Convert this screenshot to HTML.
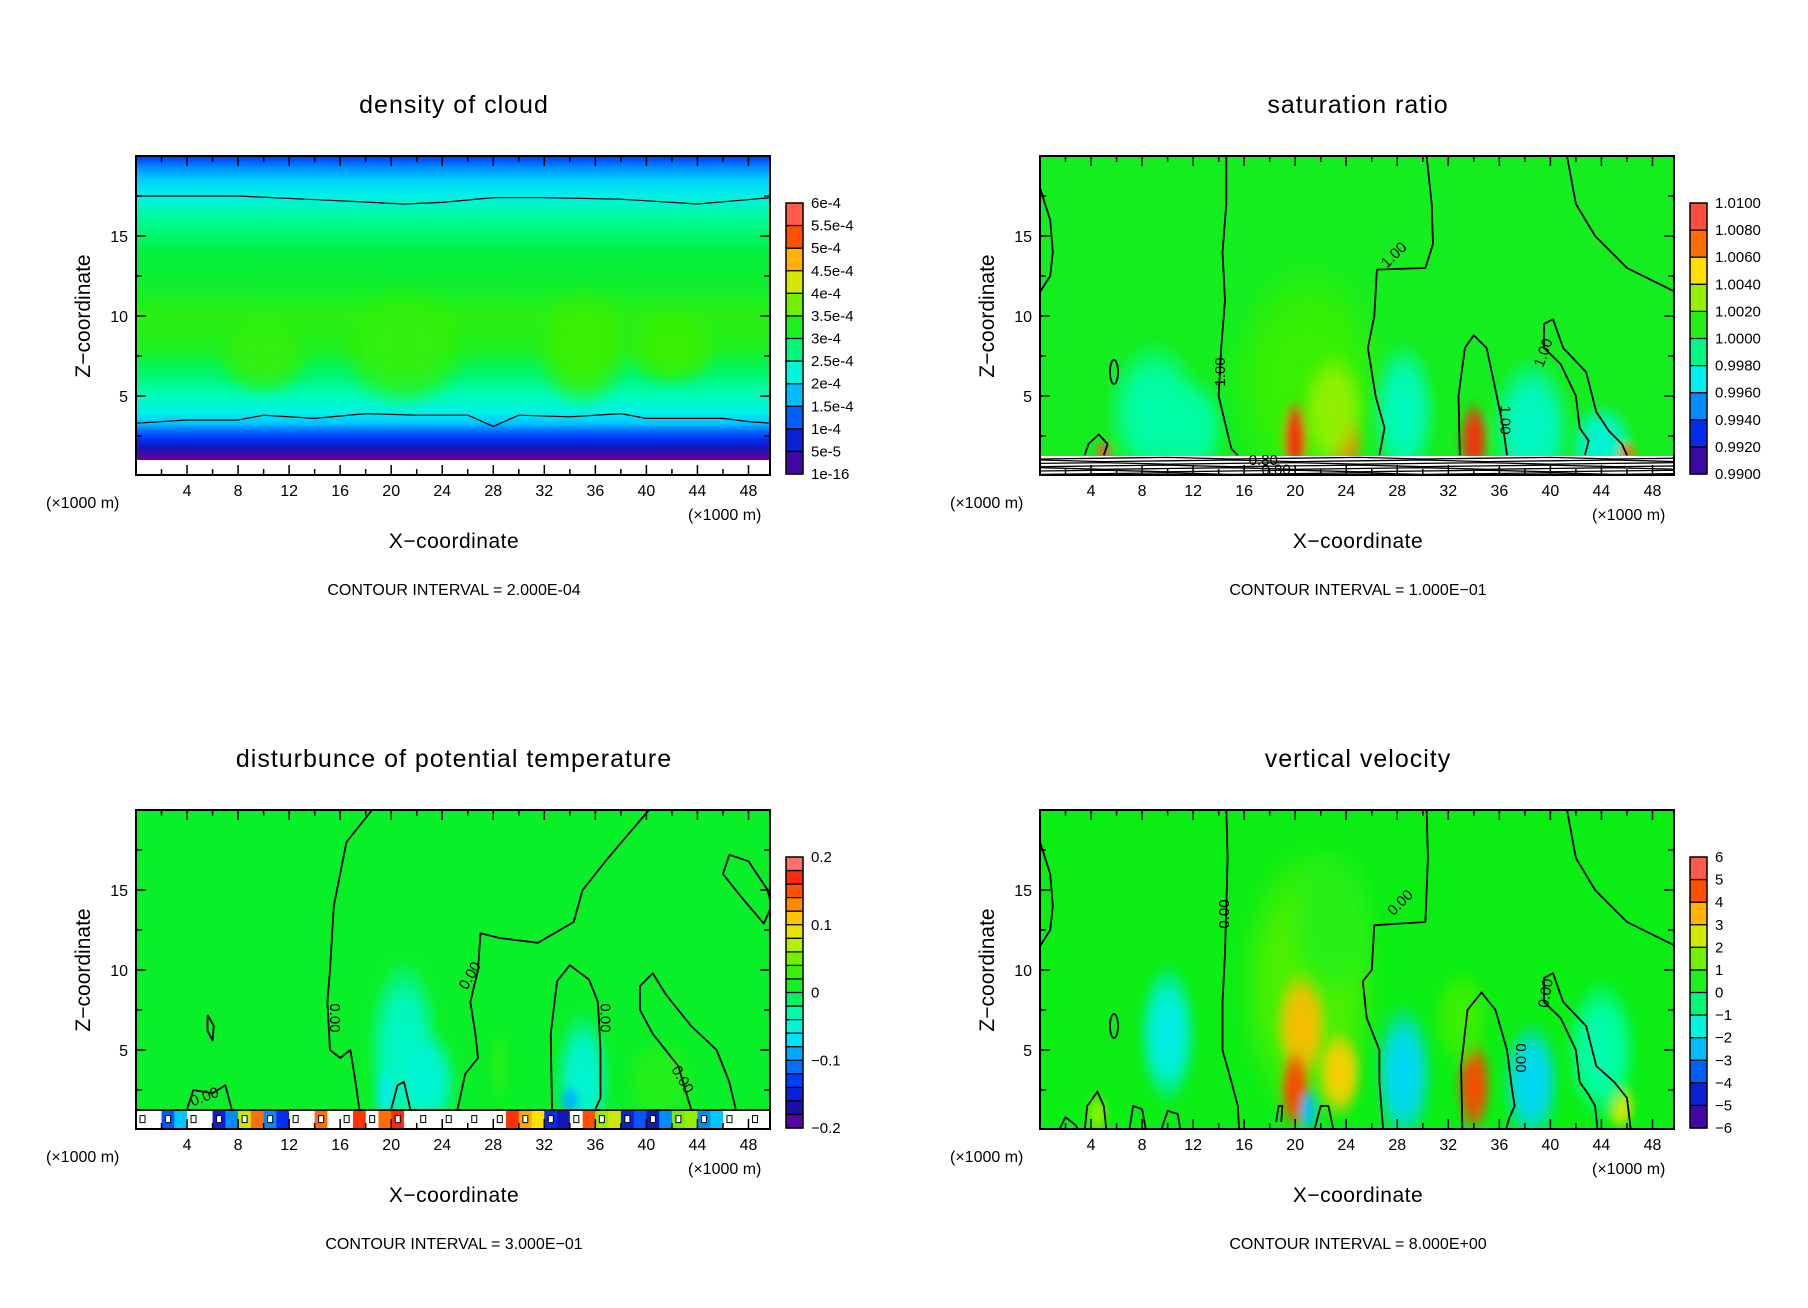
<!DOCTYPE html>
<html><head><meta charset="utf-8"><style>
html,body{margin:0;padding:0;background:#fff;}
svg{display:block;font-family:"Liberation Sans",sans-serif;}
</style></head><body>
<svg id="fig" width="1808" height="1308" viewBox="0 0 1808 1308" xmlns="http://www.w3.org/2000/svg">
<defs>
<filter id="blur" x="-50%" y="-50%" width="200%" height="200%"><feGaussianBlur stdDeviation="4"/></filter>
</defs>
</svg>
<script>
// ---------- data ----------
const xTicks=[4,8,12,16,20,24,28,32,36,40,44,48];
const zTicks=[5,10,15];
const densLabels=["1e-16","5e-5","1e-4","1.5e-4","2e-4","2.5e-4","3e-4","3.5e-4","4e-4","4.5e-4","5e-4","5.5e-4","6e-4"];
const satLabels=["0.9900","0.9920","0.9940","0.9960","0.9980","1.0000","1.0020","1.0040","1.0060","1.0080","1.0100"];
const thLabels=["\u22120.2","\u22120.1","0","0.1","0.2"];
const wLabels=["\u22126","\u22125","\u22124","\u22123","\u22122","\u22121","0","1","2","3","4","5","6"];
const densZ=[1.0,1.4,1.8,2.3,2.8,3.3,4.0,5,6.5,8,10,12,14,16,17.5,18.5,19.3,20];
const densV=[0.0,0.04,0.1,0.16,0.22,0.3,0.36,0.41,0.47,0.54,0.56,0.52,0.5,0.44,0.36,0.31,0.25,0.17];
const densTop=[[0,17.5],[8,17.5],[16,17.2],[21,17.0],[24,17.1],[28,17.4],[32,17.4],[38,17.3],[44,17.0],[49.8,17.4]];
const densBot=[[0,3.3],[4,3.5],[8,3.5],[10,3.8],[14,3.6],[18,3.9],[22,3.8],[26,3.8],[28,3.1],[30,3.8],[34,3.7],[38,3.9],[40,3.6],[46,3.6],[48,3.4],[49.8,3.3]];
const satBX=[21,9,28.5,38.5,44,20,24,34,5,46,12,23];
const satBZ=[6,4,4,3,2,2.3,2,2.2,1.5,1.5,3,4];
const satBRX=[5,3,2,2.5,2,0.8,1.0,0.9,0.5,0.6,2,2];
const satBRZ=[6,3.5,3.5,3.5,2,2,1.5,2,0.6,0.5,2.5,3];
const satBV=[1.0016,0.9984,0.998,0.9978,0.9975,1.0085,1.007,1.0085,1.009,1.007,0.9985,1.003];
const wBX=[21,20.5,20,23.5,34,10,28.5,38.5,45.5,4.5,21,33,44,23];
const wBZ=[9,6.5,2.5,3.5,2.8,6,3.5,3,1.5,1,1.2,7,5,13];
const wBRX=[4.5,1.6,1.0,1.4,1.1,1.8,1.8,1.8,0.9,0.7,0.6,1.8,2.2,3];
const wBRZ=[7,2.8,2.0,2.2,2.4,3.5,3.5,3,1.2,1,1.2,2.5,3.5,4];
const wBV=[1.2,3.4,4.6,3.2,4.6,-1.8,-2.2,-2.2,2.6,1.8,-2.5,1,-1,0.6];
const thBX=[21,23,35,34,41,28.5,19.5];
const thBZ=[5,3,3,1.8,3,4,2];
const thBRX=[2.2,1.7,1.7,0.6,2.2,0.6,0.6];
const thBRZ=[4.5,2.5,3.5,0.8,2.2,1.8,1.8];
const thBV=[-0.045,-0.05,-0.05,-0.09,0.02,0.02,-0.06];
const stripV=[0.2,0.2,-0.12,-0.08,0.2,0.2,-0.15,-0.1,0.08,0.14,-0.1,-0.14,0.2,0.2,0.14,0.2,0.2,0.16,0.2,0.14,0.17,0.2,0.2,0.2,0.2,0.2,0.2,0.2,0.2,0.16,0.12,0.1,-0.14,-0.16,0.2,0.15,0.06,0.08,-0.15,-0.12,-0.16,-0.1,0.05,0.06,-0.1,-0.08,0.2,0.2,0.2,0.2];
const satC=[
 [[0,18],[0.8,16],[1,14],[0.8,12.5],[0,11.5]],
 [[14.6,20],[14.6,17],[14.3,14],[14.5,11],[14.2,8],[14,5],[14.6,3],[15,1.7],[15.5,1.3]],
 [[30.3,20],[30.7,17],[30.8,14.5],[30.2,13],[26.4,12.9],[26.2,10],[25.7,8],[26.3,5],[27,3],[26.6,1.3]],
 [[32.9,1.3],[32.8,5],[33.3,8],[34,8.8],[35,8],[35.8,5],[36.3,3],[36.6,1.3]],
 [[41.3,20],[42,17],[43.5,15],[46,13],[49.8,11.5]],
 [[42.7,1.3],[43,2.2],[42.3,3],[42,5],[40.8,7],[39.5,8],[39.5,9.5],[40.2,9.8],[41,8],[42.8,6.5],[43.6,4],[44.6,2.8],[45.6,2],[46,1.3]],
 [[3.5,1.3],[3.8,2],[4.6,2.6],[5.3,2],[5,1.3]]
];
const wC=[
 [[0,18],[0.8,16],[1,14],[0.8,12.5],[0,11.5]],
 [[14.6,20],[14.7,17],[14.6,14],[14.5,11],[14.3,8],[14.3,5],[15,3],[15.5,1.5],[15.6,0]],
 [[30.3,20],[30.4,17],[30.2,13],[26.2,12.8],[26,10],[25.3,9.3],[25.6,7],[26.6,5],[26.6,3],[26.9,0]],
 [[33.1,0],[33,4],[33.5,7.5],[34.6,8.6],[35.7,7.5],[36.6,5],[37,2.5],[37.2,1.5],[36.8,0.8],[36.5,0]],
 [[41.3,20],[42,17],[43.5,15],[46,13],[49.8,11.5]],
 [[43.7,0],[43.5,1.5],[43,2.2],[42.3,3],[42,5],[40.8,7],[39.5,8],[39.5,9.5],[40.2,9.8],[41,8],[42.8,6.5],[43.6,4],[45,3],[46,2],[46.3,0]],
 [[3.5,0],[3.7,1.5],[4.5,2.4],[5,1.5],[5.2,0]],[[7,0],[7.3,1.5],[8,1.3],[8.3,0]],[[9.5,0],[10,1.2],[10.8,1],[11,0]],[[1.5,0],[2,0.8],[2.8,0.3],[3,0]],
 [[18.5,0.5],[18.7,1.5],[19,1.5],[18.9,0.5]],[[21.5,0],[22,1.5],[22.6,1.5],[23,0]]
];
const thC=[
 [[18.5,20],[16.5,18],[15.5,14],[15.2,10],[15,8],[15.2,5],[16,4.5],[16.8,5],[17.2,3],[17.5,1.3]],
 [[40.2,20],[37,17],[35,15],[34.3,13],[31.5,11.7],[28.5,12],[27,12.3],[26.8,10],[26.2,8],[26.6,6],[26.8,4.5],[25.8,3.5],[25.2,1.3]],
 [[32.6,1.3],[32.5,6],[33,9.3],[34,10.3],[35.5,9.4],[36.2,8],[36.4,5],[36.4,2],[36,1.3]],
 [[43.5,1.3],[42.5,4],[40.5,6],[39.5,7.5],[39.5,9],[40.5,9.8],[41.5,8.5],[43.5,6.5],[45.5,5],[46.5,3],[47,1.3]],
 [[46.5,17.2],[48,16.8],[49.5,15],[49.8,14],[49.2,12.9],[47.5,14.5],[46,16],[46.5,17.2]],
 [[5.6,7.2],[6.1,6.5],[6,5.6],[5.6,6.2],[5.6,7.2]],
 [[20,1.3],[20.5,2.8],[21,3],[21.5,1.3]],[[4,1.3],[4.5,2.5],[6,2.3],[7,2.8],[7.5,1.3]]
];
// ---------- helpers ----------
const NS="http://www.w3.org/2000/svg";
const svg=document.getElementById('fig');
const ramp=[[0,[112,0,160]],[0.083,[20,16,170]],[0.167,[0,50,255]],[0.25,[0,140,255]],[0.333,[0,235,255]],[0.417,[0,255,180]],[0.5,[0,240,60]],[0.583,[60,240,0]],[0.667,[170,240,0]],[0.75,[255,225,0]],[0.833,[255,130,0]],[0.917,[255,30,0]],[1,[255,150,150]]];
function col(t){t=Math.max(0,Math.min(1,t));for(let i=1;i<ramp.length;i++){if(t<=ramp[i][0]){const a=ramp[i-1],b=ramp[i];const f=(t-a[0])/(b[0]-a[0]);const c=a[1].map((v,k)=>Math.round(v+(b[1][k]-v)*f));return `rgb(${c[0]},${c[1]},${c[2]})`;}}return 'rgb(255,150,150)';}
function el(tag,attrs,parent){const e=document.createElementNS(NS,tag);for(const k in attrs)e.setAttribute(k,attrs[k]);(parent||svg).appendChild(e);return e;}
const L=136,R=770,T=156,B=476;
function sx(x){return L+x*12.76;}
function sz(z){return B-z*16;}
function pts(arr,ox,oy){return arr.map(p=>(sx(p[0])+ox).toFixed(1)+','+(sz(p[1])+oy).toFixed(1)).join(' ');}
let gid=0;

function panel(ox,oy,title,ci,labels,nb,name){
  const g=el('g',{});
  
  
  const t=el('text',{x:454+ox,y:113+oy,'text-anchor':'middle','font-size':25,fill:'#000','letter-spacing':'1'},g);
  t.textContent=title;
  
  
  const cp=el('clipPath',{id:'cp'+name},g);
  el('rect',{x:L+ox,y:T+oy,width:R-L,height:B-1-T},cp);
  const plot=el('g',{'clip-path':`url(#cp${name})`},g);
  
  
  const cb=el('g',{},g);
  
  
  const cx=786+ox,ct=203+oy,cbt=474+oy,bh=(cbt-ct)/nb;
  for(let i=0;i<nb;i++){
    const r=el('rect',{x:cx,y:cbt-(i+1)*bh,width:17,height:bh+0.5,fill:col((i+0.5)/nb)},cb);
    
    
    el('line',{x1:cx,x2:cx+17,y1:cbt-i*bh,y2:cbt-i*bh,stroke:'#000','stroke-width':1.3},cb);
  }
  el('rect',{x:cx,y:ct,width:17,height:cbt-ct,fill:'none',stroke:'#000','stroke-width':1.5},cb);
  labels.forEach((s,i)=>{const y=cbt-i*(cbt-ct)/(labels.length-1);
    const tx=el('text',{x:cx+25,y:y+5,'font-size':15,fill:'#000'},cb);tx.textContent=s;
    
    });
  const zl=el('text',{x:0,y:0,'font-size':21,'text-anchor':'middle',transform:`translate(${90+ox},${316+oy}) rotate(-90)`},g);zl.textContent='Z\u2212coordinate';
  
  const xl=el('text',{x:454+ox,y:548+oy,'font-size':21,'text-anchor':'middle','letter-spacing':'0.5'},g);xl.textContent='X\u2212coordinate';
  
  const u1=el('text',{x:46+ox,y:508+oy,'font-size':16},g);u1.textContent='(\u00d71000 m)';
  
  const u2=el('text',{x:688+ox,y:520+oy,'font-size':16},g);u2.textContent='(\u00d71000 m)';
  
  const c=el('text',{x:454+ox,y:595+oy,'font-size':16,'text-anchor':'middle'},g);c.textContent='CONTOUR INTERVAL = '+ci;
  
  return {g,plot};
}
function frame(ox,oy,g){
  el('rect',{x:L+ox,y:T+oy,width:R-L,height:B-1-T,fill:'none',stroke:'#000','stroke-width':2},g);
  for(let x=2;x<50;x+=2){const big=x%4===0;const len=big?10:6;
    el('line',{x1:sx(x)+ox,x2:sx(x)+ox,y1:B-1+oy,y2:B-1-len+oy,stroke:'#000','stroke-width':1.5},g);
    el('line',{x1:sx(x)+ox,x2:sx(x)+ox,y1:T+oy,y2:T+len+oy,stroke:'#000','stroke-width':1.5},g);}
  for(let z=2.5;z<20;z+=2.5){const big=z%5===0;const len=big?10:6;
    el('line',{x1:L+ox,x2:L+len+ox,y1:sz(z)+oy,y2:sz(z)+oy,stroke:'#000','stroke-width':1.5},g);
    el('line',{x1:R+ox,x2:R-len+ox,y1:sz(z)+oy,y2:sz(z)+oy,stroke:'#000','stroke-width':1.5},g);}
  xTicks.forEach(v=>{const t=el('text',{x:sx(v)+ox,y:496+oy,'font-size':16,'text-anchor':'middle'},g);t.textContent=v;
    });
  zTicks.forEach(v=>{const t=el('text',{x:L-8+ox,y:sz(v)+6+oy,'font-size':16,'text-anchor':'end'},g);t.textContent=v;
    });
}
function blobs(plot,ox,oy,X,Z,RX,RZ,V,lo,hi){
  const bg=el('g',{filter:'url(#blur)'},plot);
  X.forEach((x,i)=>{const c=col((V[i]-lo)/(hi-lo));const id='rg'+(gid++);
    const rg=el('radialGradient',{id:id},bg);
    el('stop',{offset:'0','stop-color':c,'stop-opacity':1},rg);
    el('stop',{offset:'0.55','stop-color':c,'stop-opacity':0.85},rg);
    el('stop',{offset:'1','stop-color':c,'stop-opacity':0},rg);
    const e=el('ellipse',{cx:sx(x)+ox,cy:sz(Z[i])+oy,rx:RX[i]*12.76*1.3,ry:RZ[i]*16*1.3,fill:`url(#${id})`},bg);
    });
}
function contours(plot,ox,oy,list,w){
  list.forEach(c=>{const p=el('polyline',{points:pts(c,ox,oy),fill:'none',stroke:'#000','stroke-width':w||1.8,'stroke-linejoin':'round'},plot);
    });
}
function clabel(plot,ox,oy,x,z,rot,s){const t=el('text',{x:0,y:0,'font-size':15,transform:`translate(${sx(x)+ox},${sz(z)+oy}) rotate(${rot})`,'text-anchor':'middle',fill:'#000'},plot);t.textContent=s;
  }

// ---------- panel 1: density ----------
(function(){const ox=0,oy=0;const p=panel(ox,oy,'density of cloud','2.000E-04',densLabels,12,'density');
  const gr=el('linearGradient',{id:'dgrad',x1:0,y1:1,x2:0,y2:0,gradientUnits:'objectBoundingBox'},p.plot);
  densZ.forEach((z,i)=>{el('stop',{offset:((z-1)/19).toFixed(3),'stop-color':col(densV[i])},gr);});
  const r=el('rect',{x:L+ox,y:sz(20)+oy,width:R-L,height:sz(1)-sz(20),fill:'url(#dgrad)'},p.plot);
  
  blobs(p.plot,ox,oy,[21,35,10,42],[8,8,7.5,8],[4,3,3,3],[3,3,2,2],[0.57,0.58,0.57,0.58],0,1);
  contours(p.plot,ox,oy,[densTop,densBot],1.2);
  frame(ox,oy,p.g);})();

// ---------- panel 2: saturation ----------
(function(){const ox=904,oy=0;const p=panel(ox,oy,'saturation ratio','1.000E\u221201',satLabels,10,'saturation');
  const r=el('rect',{x:L+ox,y:T+oy,width:R-L,height:B-T,fill:'rgb(20,238,30)'},p.plot);
  
  blobs(p.plot,ox,oy,satBX,satBZ,satBRX,satBRZ,satBV,0.99,1.01);
  el('rect',{x:L+ox,y:sz(1.25)+oy,width:R-L,height:sz(0)-sz(1.25),fill:'#fff'},p.plot);
  for(let k=0;k<7;k++){const z=0.15+k*0.16;const arr=[];for(let x=0;x<=50;x+=5){arr.push([x,z+((x/5+k)%3-1)*0.05]);}
    contours(p.plot,ox,oy,[arr],1.3);}
  contours(p.plot,ox,oy,satC);
  el('ellipse',{cx:sx(5.8)+ox,cy:sz(6.5)+oy,rx:4,ry:12,fill:'none',stroke:'#000','stroke-width':1.8},p.plot);
  clabel(p.plot,ox,oy,14.5,6.5,-90,'1.00');clabel(p.plot,ox,oy,28,13.6,-45,'1.00');
  clabel(p.plot,ox,oy,36.1,3.5,90,'1.00');clabel(p.plot,ox,oy,39.8,7.6,-70,'1.00');
  clabel(p.plot,ox,oy,17.5,0.7,0,'0.80');clabel(p.plot,ox,oy,18.5,0.1,0,'0.80');
  frame(ox,oy,p.g);})();

// ---------- panel 3: theta ----------
(function(){const ox=0,oy=654;const p=panel(ox,oy,'disturbunce of potential temperature','3.000E\u221201',thLabels,20,'theta');
  const r=el('rect',{x:L+ox,y:T+oy,width:R-L,height:B-T,fill:'rgb(10,240,40)'},p.plot);
  
  blobs(p.plot,ox,oy,thBX,thBZ,thBRX,thBRZ,thBV,-0.2,0.2);
  const sg=el('g',{},p.plot);
  stripV.forEach((v,i)=>{const s=el('rect',{x:sx(i)+ox,y:sz(1.25)+oy,width:13.3,height:sz(0)-sz(1.25),fill:v>=0.19?'#fff':col((v+0.2)/0.4)},sg);
    
    if(i%2===0) el('rect',{x:sx(i)+ox+4,y:sz(0.9)+oy,width:5,height:7,fill:'#fff',stroke:'#000','stroke-width':1},sg);});
  contours(p.plot,ox,oy,[[[0,1.25],[50,1.25]]],2);
  contours(p.plot,ox,oy,thC);
  clabel(p.plot,ox,oy,15.2,7,90,'0.00');clabel(p.plot,ox,oy,26.5,9.5,-60,'0.00');
  clabel(p.plot,ox,oy,36.4,7,90,'0.00');clabel(p.plot,ox,oy,42.5,3,60,'0.00');clabel(p.plot,ox,oy,5.5,1.8,-20,'0.00');
  frame(ox,oy,p.g);})();

// ---------- panel 4: vertical velocity ----------
(function(){const ox=904,oy=654;const p=panel(ox,oy,'vertical velocity','8.000E+00',wLabels,12,'velocity');
  const r=el('rect',{x:L+ox,y:T+oy,width:R-L,height:B-T,fill:'rgb(10,238,20)'},p.plot);
  
  blobs(p.plot,ox,oy,wBX,wBZ,wBRX,wBRZ,wBV,-6,6);
  contours(p.plot,ox,oy,wC);
  el('ellipse',{cx:sx(5.8)+ox,cy:sz(6.5)+oy,rx:4,ry:12,fill:'none',stroke:'#000','stroke-width':1.8},p.plot);
  clabel(p.plot,ox,oy,14.8,13.5,-90,'0.00');clabel(p.plot,ox,oy,28.5,14,-45,'0.00');
  clabel(p.plot,ox,oy,37.3,4.5,90,'0.00');clabel(p.plot,ox,oy,40,8.5,-80,'0.00');
  frame(ox,oy,p.g);})();
</script>
</body></html>
